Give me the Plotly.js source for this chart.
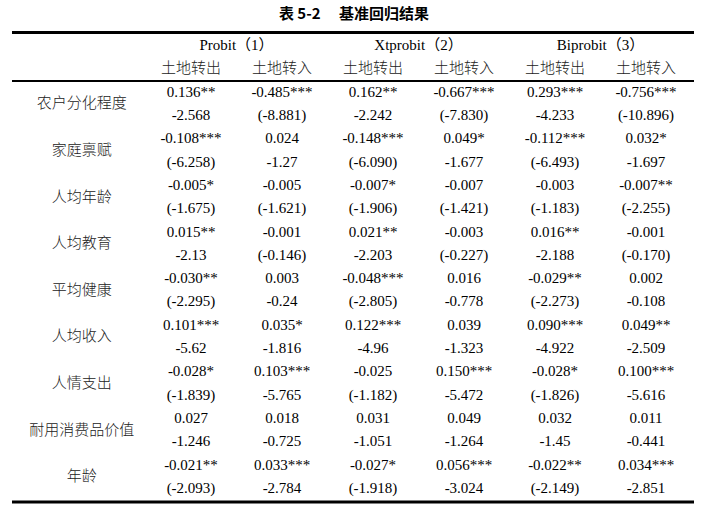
<!DOCTYPE html>
<html>
<head>
<meta charset="utf-8">
<script src="https://cdn.plot.ly/plotly-3.0.1.min.js"></script>
<style>html,body{margin:0;padding:0;background:#fff;}#chart{width:708px;height:509px;}</style>
</head>
<body>
<div id="chart"></div>
<script>
// ---- Data ----
var tableTitle = '表 5-2\u3000\u00a0基准回归结果';
var models = ['Probit（1）', 'Xtprobit（2）', 'Biprobit（3）'];
var outcomes = ['土地转出', '土地转入'];
var variables = ['农户分化程度', '家庭禀赋', '人均年龄', '人均教育', '平均健康', '人均收入', '人情支出', '耐用消费品价值', '年龄'];

var probitOutCoef = ['0.136**', '-0.108***', '-0.005*', '0.015**', '-0.030**', '0.101***', '-0.028*', '0.027', '-0.021**'];
var probitOutT    = ['-2.568', '(-6.258)', '(-1.675)', '-2.13', '(-2.295)', '-5.62', '(-1.839)', '-1.246', '(-2.093)'];
var probitInCoef  = ['-0.485***', '0.024', '-0.005', '-0.001', '0.003', '0.035*', '0.103***', '0.018', '0.033***'];
var probitInT     = ['(-8.881)', '-1.27', '(-1.621)', '(-0.146)', '-0.24', '-1.816', '-5.765', '-0.725', '-2.784'];
var xtOutCoef     = ['0.162**', '-0.148***', '-0.007*', '0.021**', '-0.048***', '0.122***', '-0.025', '0.031', '-0.027*'];
var xtOutT        = ['-2.242', '(-6.090)', '(-1.906)', '-2.203', '(-2.805)', '-4.96', '(-1.182)', '-1.051', '(-1.918)'];
var xtInCoef      = ['-0.667***', '0.049*', '-0.007', '-0.003', '0.016', '0.039', '0.150***', '0.049', '0.056***'];
var xtInT         = ['(-7.830)', '-1.677', '(-1.421)', '(-0.227)', '-0.778', '-1.323', '-5.472', '-1.264', '-3.024'];
var biOutCoef     = ['0.293***', '-0.112***', '-0.003', '0.016**', '-0.029**', '0.090***', '-0.028*', '0.032', '-0.022**'];
var biOutT        = ['-4.233', '(-6.493)', '(-1.183)', '-2.188', '(-2.273)', '-4.922', '(-1.826)', '-1.45', '(-2.149)'];
var biInCoef      = ['-0.756***', '0.032*', '-0.007**', '-0.001', '0.002', '0.049**', '0.100***', '0.011', '0.034***'];
var biInT         = ['(-10.896)', '-1.697', '(-2.255)', '(-0.170)', '-0.108', '-2.509', '-5.616', '-0.441', '-2.851'];

// ---- Build ----
var columns = [
  [probitOutCoef, probitOutT], [probitInCoef, probitInT],
  [xtOutCoef, xtOutT], [xtInCoef, xtInT],
  [biOutCoef, biOutT], [biInCoef, biInT]
];
var W = 708, H = 509;
var serif = 'Liberation Serif, Times New Roman, Noto Sans CJK SC, serif';
var cjk = 'Liberation Serif, Noto Sans CJK SC, sans-serif';

var cx = [], cy = [], ct = [];
columns.forEach(function (col, ci) {
  for (var r = 0; r < variables.length; r++) {
    cx.push(ci + 1); cy.push(2 * r); ct.push(col[0][r]);
    cx.push(ci + 1); cy.push(2 * r + 1); ct.push(col[1][r]);
  }
});
var LABEL_X = -0.2;
var lx = [], ly = [];
variables.forEach(function (v, r) { lx.push(LABEL_X); ly.push(2 * r + 0.5); });

var mx = [], my = [];
models.forEach(function (m, i) { mx.push(2 * i + 1.5); my.push(-2); });
var sx = [], sy = [], st = [];
models.forEach(function (m, i) {
  outcomes.forEach(function (o, j) { sx.push(2 * i + j + 1); sy.push(-1); st.push(o); });
});

var base = {type: 'scatter', mode: 'text', hoverinfo: 'skip', showlegend: false, textposition: 'middle center', cliponaxis: false};
var traces = [
  Object.assign({}, base, {x: cx, y: cy, text: ct, textfont: {family: serif, size: 15, color: '#000'}}),
  Object.assign({}, base, {x: lx, y: ly, text: variables, textfont: {family: cjk, size: 15, color: '#222', weight: 300}}),
  Object.assign({}, base, {x: mx, y: my, text: models, textfont: {family: serif, size: 15, color: '#000'}}),
  Object.assign({}, base, {x: sx, y: sy, text: st, textfont: {family: cjk, size: 15, color: '#222', weight: 300}})
];

var pxX = 91, x1px = 191;
var xl = 1 - x1px / pxX;
var pxY = 23.3, y0px = 93;
var yt = -y0px / pxY;
function py(p) { return 1 - p / H; }

var layout = {
  width: W, height: H,
  margin: {l: 0, r: 0, t: 0, b: 0, pad: 0},
  paper_bgcolor: '#fff', plot_bgcolor: '#fff',
  title: {text: tableTitle, x: 0.5, xanchor: 'center', xref: 'paper', y: 1 - 14 / H, yref: 'container', yanchor: 'middle',
          font: {family: 'Noto Sans CJK SC, sans-serif', size: 15, color: '#000', weight: 'bold'}},
  xaxis: {range: [xl, xl + W / pxX], visible: false, fixedrange: true},
  yaxis: {range: [yt + H / pxY, yt], visible: false, fixedrange: true},
  shapes: [
    {type: 'line', xref: 'paper', yref: 'paper', x0: 12 / W, x1: 694 / W, y0: py(32.5), y1: py(32.5), line: {color: '#000', width: 3}},
    {type: 'line', xref: 'paper', yref: 'paper', x0: 12 / W, x1: 694 / W, y0: py(81), y1: py(81), line: {color: '#000', width: 2}},
    {type: 'line', xref: 'paper', yref: 'paper', x0: 12 / W, x1: 694 / W, y0: py(502), y1: py(502), line: {color: '#000', width: 3}}
  ]
};
Plotly.newPlot('chart', traces, layout, {displayModeBar: false, staticPlot: true});
</script>
</body>
</html>
